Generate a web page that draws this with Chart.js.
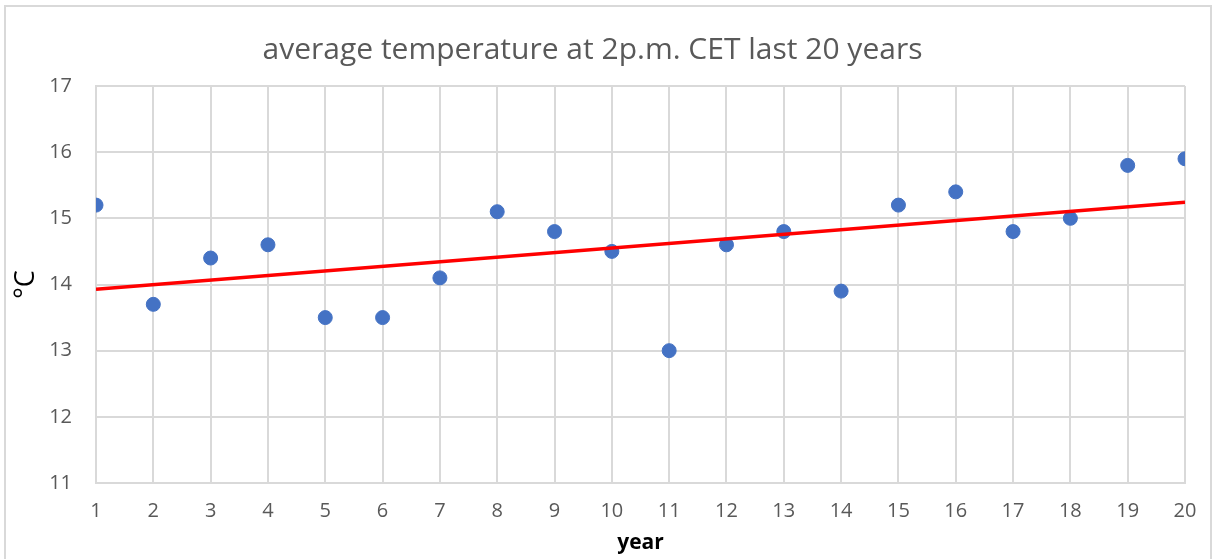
<!DOCTYPE html>
<html>
<head>
<meta charset="utf-8">
<script src="https://cdn.jsdelivr.net/npm/chart.js@4"></script>
<style>
  html, body { margin: 0; padding: 0; background: #fff; }
  #wrap { width: 1213px; height: 559px; }
</style>
</head>
<body>
<div id="wrap"><canvas id="temps" width="1213" height="559"></canvas></div>
<script>
// values
const years = [1, 2, 3, 4, 5, 6, 7, 8, 9, 10, 11, 12, 13, 14, 15, 16, 17, 18, 19, 20];
const temps = [15.2, 13.7, 14.4, 14.6, 13.5, 13.5, 14.1, 15.1, 14.8, 14.5,
               13.0, 14.6, 14.8, 13.9, 15.2, 15.4, 14.8, 15.0, 15.8, 15.9];
// linear trendline end points
const trendYears = [1, 20];
const trendTemps = [13.93, 15.245];

const points = years.map((x, i) => ({ x: x, y: temps[i] }));
const trend = trendYears.map((x, i) => ({ x: x, y: trendTemps[i] }));

const frame = {
  id: "frame",
  beforeDraw(chart) {
    const ctx = chart.ctx;
    ctx.save();
    ctx.fillStyle = "#fff";
    ctx.fillRect(0, 0, chart.width, chart.height);
    ctx.strokeStyle = "#d9d9d9";
    ctx.lineWidth = 2;
    ctx.strokeRect(5, 6, 1206, 560);
    ctx.restore();
  }
};

const font = "Open Sans, Liberation Sans, sans-serif";
const ctx = document.getElementById("temps").getContext("2d");
const chart = new Chart(ctx, {
  type: "scatter",
  data: {
    datasets: [
      {
        label: "trend",
        data: trend,
        showLine: true,
        borderColor: "#ff0000",
        borderWidth: 3.5,
        pointRadius: 0,
        order: 0
      },
      {
        label: "temperature",
        data: points,
        backgroundColor: "#4472c4",
        borderColor: "#4472c4",
        pointRadius: 7,
        order: 1
      }
    ]
  },
  plugins: [frame],
  options: {
    responsive: false,
    animation: false,
    layout: { padding: { top: 4, right: 28, bottom: 0, left: 0 } },
    plugins: {
      legend: { display: false },
      tooltip: { enabled: false },
      title: {
        display: true,
        text: "average temperature at 2p.m. CET last 20 years",
        color: "#595959",
        font: { family: font, size: 30, weight: "normal" },
        padding: { top: 28, bottom: 18 }
      }
    },
    scales: {
      x: {
        type: "linear",
        min: 1,
        max: 20,
        afterFit: s => { s.height = 76; },
        ticks: {
          stepSize: 1,
          color: "#595959",
          padding: 16,
          font: { family: font, size: 20 }
        },
        grid: { color: "#d9d9d9", lineWidth: 2, drawTicks: false },
        border: { color: "#d9d9d9", width: 2 },
        title: {
          display: true,
          text: "year",
          color: "#000",
          font: { family: font, size: 21, weight: "bold" },
          padding: { top: 0, bottom: 3 }
        }
      },
      y: {
        min: 11,
        max: 17,
        afterFit: s => { s.width = 96; },
        ticks: {
          stepSize: 1,
          color: "#595959",
          padding: 24,
          font: { family: font, size: 20 }
        },
        grid: { color: "#d9d9d9", lineWidth: 2, drawTicks: false },
        border: { color: "#d9d9d9", width: 2 },
        title: {
          display: true,
          text: "°C",
          color: "#000",
          font: { family: font, size: 27 },
          padding: { top: 10, bottom: 0 }
        }
      }
    }
  }
});
</script>
</body>
</html>
